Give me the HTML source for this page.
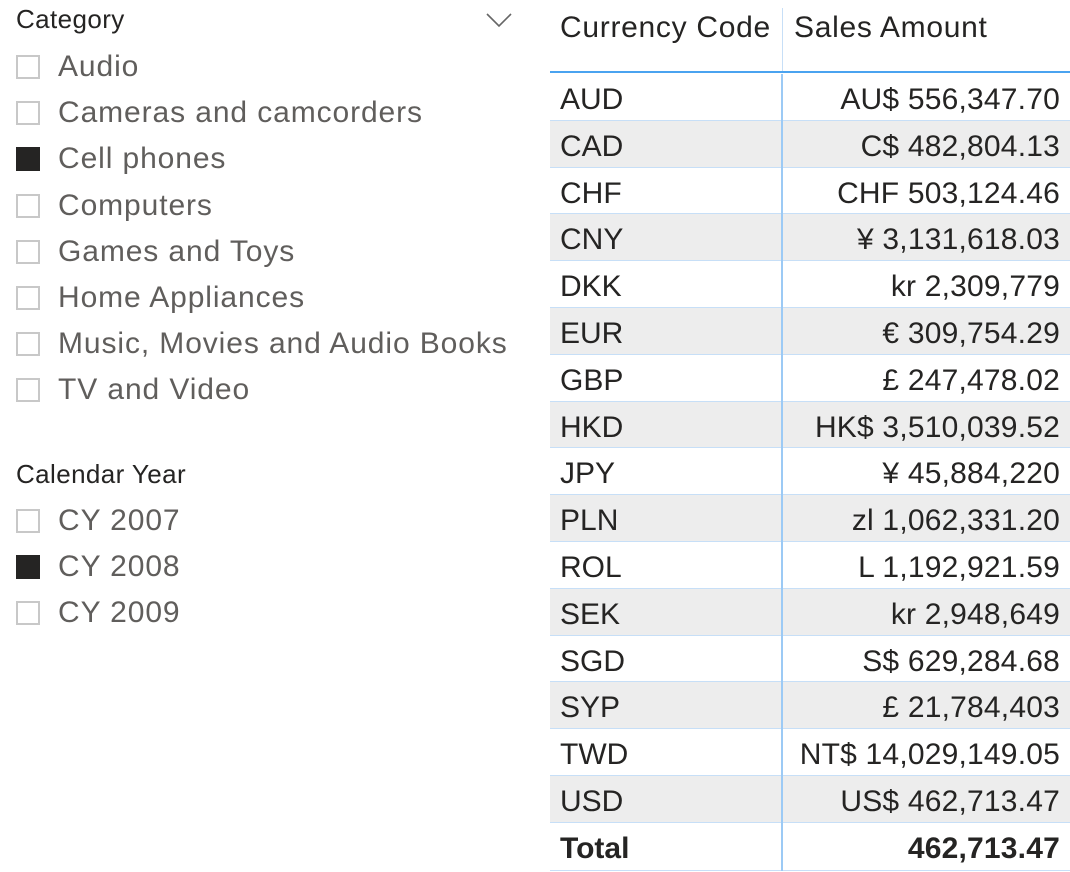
<!DOCTYPE html>
<html><head><meta charset="utf-8">
<style>
body{margin:0;width:1070px;height:872px;background:#fff;overflow:hidden;position:relative;font-family:"Segoe UI","Liberation Sans",sans-serif;}
.h{position:absolute;left:16px;font-size:26px;color:#252423;letter-spacing:0.4px;}
.item{position:absolute;left:16px;height:40px;display:flex;align-items:center;font-size:30px;color:#605e5c;white-space:nowrap;letter-spacing:0.9px;}
.cb{width:20px;height:20px;border:2.5px solid #c8c8c8;margin-right:18px;box-sizing:content-box;}
.cb.on{background:#252423;border-color:#252423;}
#tbl{position:absolute;left:550px;top:0;width:520px;height:872px;}
.row{position:absolute;left:0;width:520px;height:46.8px;font-size:30px;color:#252423;box-sizing:border-box;border-bottom:1px solid #c7dff7;}
.row.g{background:#ededed;}
.c1{position:absolute;left:10px;top:3px;line-height:46px;}
.c2{position:absolute;right:10px;top:3px;line-height:46px;letter-spacing:0.2px;}
.vline{position:absolute;left:231px;top:74px;width:2px;height:797px;background:#9ccaf5;}
</style></head><body>
<div class="h" style="top:4px">Category</div>
<svg style="position:absolute;left:486px;top:12px" width="26" height="16"><path d="M1 2 L13 14 L25 2" fill="none" stroke="#666" stroke-width="1.6"/></svg>
<div id="cat"></div>
<div class="h" style="top:459px">Calendar Year</div>
<div id="yr"></div>
<div id="tbl">
 <div style="position:absolute;left:10px;top:11px;font-size:30px;color:#252423;letter-spacing:0.7px">Currency Code</div>
 <div style="position:absolute;left:244px;top:11px;font-size:30px;color:#252423;letter-spacing:0.7px">Sales Amount</div>
 <div style="position:absolute;left:232px;top:8px;width:1px;height:64px;background:#c7dff7"></div>
 <div style="position:absolute;left:0;top:71px;width:520px;height:2px;background:#4aa3f0"></div>
 <div class="vline"></div>
</div>
<script>
const categories=["Audio","Cameras and camcorders","Cell phones","Computers","Games and Toys","Home Appliances","Music, Movies and Audio Books","TV and Video"];
const catChecked=[false,false,true,false,false,false,false,false];
const years=["CY 2007","CY 2008","CY 2009"];
const yrChecked=[false,true,false];
const codes=["AUD","CAD","CHF","CNY","DKK","EUR","GBP","HKD","JPY","PLN","ROL","SEK","SGD","SYP","TWD","USD"];
const amounts=["AU$ 556,347.70","C$ 482,804.13","CHF 503,124.46","¥ 3,131,618.03","kr 2,309,779","€ 309,754.29","£ 247,478.02","HK$ 3,510,039.52","¥ 45,884,220","zl 1,062,331.20","L 1,192,921.59","kr 2,948,649","S$ 629,284.68","£ 21,784,403","NT$ 14,029,149.05","US$ 462,713.47"];
const total="462,713.47";
function slicer(id,labels,checked,top){
 const c=document.getElementById(id);
 labels.forEach((l,i)=>{
  const d=document.createElement('div');d.className='item';d.style.top=(top+i*46.2)+'px';
  
  
  d.innerHTML='<span class="cb'+(checked[i]?' on':'')+'"></span>'+l;
  c.appendChild(d);
 });
}
slicer('cat',categories,catChecked,47);
slicer('yr',years,yrChecked,501);
const t=document.getElementById('tbl');
const vl=t.querySelector('.vline');
codes.forEach((c,i)=>{
 const r=document.createElement('div');r.className='row'+(i%2?' g':'');r.style.top=(74+i*46.8)+'px';
 
 
 r.innerHTML='<span class="c1">'+c+'</span><span class="c2">'+amounts[i]+'</span>';
 t.insertBefore(r,vl);
});
const tr=document.createElement('div');tr.className='row';tr.style.top=(74+16*46.8)+'px';tr.style.height='48px';tr.style.fontWeight='bold';


tr.innerHTML='<span class="c1">Total</span><span class="c2">'+total+'</span>';
t.insertBefore(tr,vl);
</script>
</body></html>
